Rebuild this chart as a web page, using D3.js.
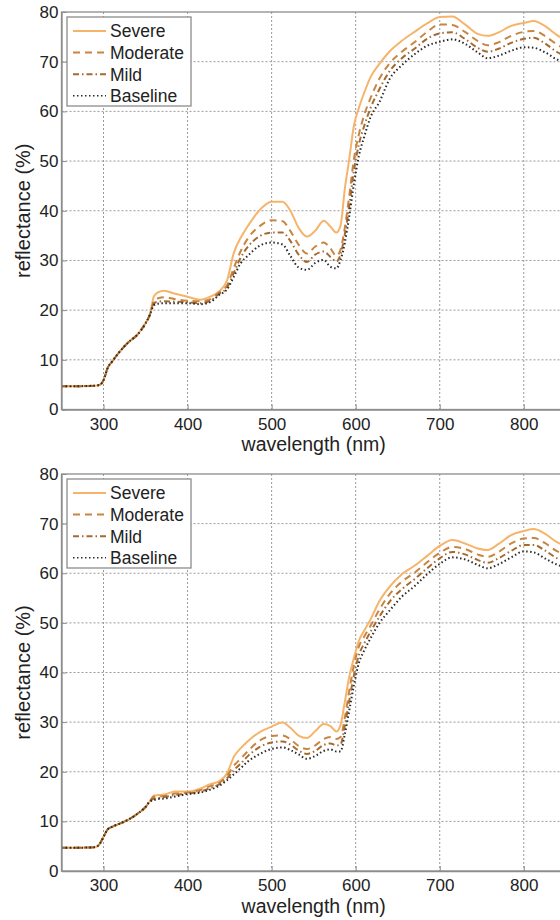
<!DOCTYPE html>
<html>
<head>
<meta charset="utf-8">
<script src="https://cdnjs.cloudflare.com/ajax/libs/d3/7.8.5/d3.min.js"></script>
<style>
  body { margin: 0; background: #fff; }
  svg { display: block; font-family: "Liberation Sans", Arial, sans-serif; }
</style>
</head>
<body>
<div class="box"></div>
<script>
// longueurs d'onde (nm), communes aux deux graphes
const wavelengths = [250, 270, 290, 296, 300, 305, 310, 320, 330, 340, 350, 355, 360, 365, 372, 385, 400, 415, 427, 437,
  447, 455, 463, 472, 485, 500, 513, 522, 532, 542, 552, 562, 570, 577, 582, 587, 592, 598, 604, 610,
  618, 628, 640, 655, 670, 685, 700, 715, 730, 745, 757, 770, 785, 800, 812, 825, 840, 850];

const seriesNames = ['Severe', 'Moderate', 'Mild', 'Baseline'];
const xTicks = [300, 400, 500, 600, 700, 800];
const yTicks = [0, 10, 20, 30, 40, 50, 60, 70, 80];

// graphe du haut
const topSevere = [4.7, 4.7, 4.8, 5.0, 5.9, 8.4, 9.6, 11.8, 13.6, 15.0, 17.4, 19.0, 22.8, 23.6, 23.9, 23.3, 22.7, 22.1, 22.7, 23.7,
  26.0, 31.5, 34.5, 37.0, 40.0, 41.8, 41.8, 40.1, 36.6, 34.8, 36.0, 38.0, 36.8, 35.6, 37.0, 44.3, 50.0, 57.2, 60.8, 63.7,
  67.0, 69.5, 72.0, 74.2, 76.0, 77.7, 79.0, 79.1, 77.5, 75.6, 75.2, 75.9, 77.2, 77.8, 78.2, 77.2, 75.3, 74.3];
const topModerate = [4.7, 4.7, 4.8, 5.0, 5.9, 8.4, 9.6, 11.8, 13.6, 15.0, 17.4, 19.0, 21.8, 22.4, 22.6, 22.2, 21.9, 21.8, 22.2, 23.5,
  25.0, 28.5, 31.8, 34.5, 36.8, 38.1, 37.9, 36.0, 33.2, 31.4, 32.8, 33.6, 32.4, 30.9, 32.2, 36.5, 42.5, 50.5, 55.5, 59.2,
  62.8, 66.5, 69.6, 72.0, 73.9, 76.0, 77.5, 77.4, 76.0, 74.2, 73.3, 73.9, 75.2, 76.0, 76.2, 75.2, 73.4, 72.5];
const topMild = [4.7, 4.7, 4.8, 5.0, 5.9, 8.4, 9.6, 11.8, 13.6, 15.0, 17.4, 19.0, 21.4, 21.7, 21.8, 21.7, 21.6, 21.4, 21.9, 23.2,
  24.6, 27.5, 30.5, 32.8, 34.8, 35.6, 35.6, 34.0, 31.2, 29.7, 31.2, 31.8, 30.7, 29.8, 31.2, 35.2, 40.5, 48.2, 53.5, 57.0,
  60.8, 64.4, 68.0, 70.7, 72.6, 74.6, 75.7, 75.9, 74.6, 72.8, 72.0, 72.6, 73.8, 74.6, 74.8, 73.7, 71.9, 71.1];
const topBaseline = [4.7, 4.7, 4.8, 5.0, 5.9, 8.4, 9.6, 11.8, 13.6, 15.0, 17.3, 19.0, 21.0, 21.3, 21.4, 21.4, 21.4, 21.2, 21.6, 23.0,
  24.2, 26.7, 29.4, 31.0, 32.9, 33.6, 33.2, 31.0, 28.6, 28.1, 29.5, 30.1, 28.7, 28.4, 30.1, 33.5, 38.5, 45.5, 51.2, 54.8,
  59.0, 61.8, 66.4, 69.3, 71.5, 73.2, 74.0, 74.5, 73.6, 71.9, 70.7, 71.2, 72.2, 72.9, 72.8, 71.9, 70.4, 69.7];

// graphe du bas
const bottomSevere = [4.7, 4.7, 4.8, 5.6, 6.9, 8.4, 8.9, 9.6, 10.4, 11.5, 12.9, 14.0, 15.2, 15.3, 15.4, 16.0, 16.0, 16.6, 17.5, 18.0,
  19.7, 23.0, 24.7, 26.2, 27.9, 29.1, 29.9, 28.9, 27.3, 26.8, 28.2, 29.6, 29.2, 28.1, 29.4, 34.0, 38.8, 43.0, 46.5, 48.4,
  50.8, 54.3, 57.2, 59.8, 61.5, 63.5, 65.5, 66.7, 66.0, 65.0, 64.7, 65.9, 67.7, 68.5, 68.9, 68.0, 66.2, 65.5];
const bottomModerate = [4.7, 4.7, 4.8, 5.6, 6.9, 8.4, 8.9, 9.6, 10.4, 11.5, 12.9, 14.0, 15.0, 15.0, 15.1, 15.6, 15.8, 16.3, 17.1, 17.7,
  19.2, 21.2, 22.6, 24.2, 26.2, 27.2, 27.3, 26.6, 25.2, 24.6, 25.3, 26.6, 27.0, 26.6, 27.0, 30.8, 36.0, 41.5, 45.3, 47.2,
  49.5, 52.6, 55.7, 58.3, 60.1, 62.2, 64.1, 65.3, 64.9, 63.8, 63.3, 64.3, 66.0, 67.0, 67.1, 66.1, 64.4, 63.8];
const bottomMild = [4.7, 4.7, 4.8, 5.6, 6.9, 8.4, 8.9, 9.6, 10.4, 11.5, 12.9, 14.0, 14.6, 14.7, 14.9, 15.3, 15.6, 16.0, 16.7, 17.4,
  18.7, 20.3, 21.6, 23.2, 24.9, 25.9, 26.1, 25.5, 24.3, 23.6, 24.2, 25.4, 25.7, 25.3, 25.5, 29.2, 34.0, 39.5, 43.6, 45.8,
  48.3, 51.2, 54.2, 56.8, 58.8, 61.0, 63.0, 64.3, 63.8, 62.7, 62.1, 63.0, 64.5, 65.7, 65.7, 64.6, 63.0, 62.4];
const bottomBaseline = [4.7, 4.7, 4.8, 5.6, 6.9, 8.4, 8.9, 9.6, 10.4, 11.5, 12.9, 14.0, 14.3, 14.5, 14.6, 15.0, 15.5, 15.8, 16.4, 17.1,
  18.3, 19.5, 20.7, 22.1, 23.5, 24.6, 24.9, 24.4, 23.5, 22.6, 23.2, 24.2, 24.5, 24.1, 24.1, 27.5, 32.0, 37.5, 42.0, 44.4,
  47.0, 49.9, 52.4, 55.3, 57.4, 59.8, 61.9, 63.2, 62.8, 61.7, 61.0, 61.8, 63.2, 64.4, 64.2, 63.0, 61.7, 61.2];

const styles = {
  Severe:   {color: '#f6b46a', dash: null, width: 2},
  Moderate: {color: '#c98540', dash: '7,5', width: 2},
  Mild:     {color: '#a56a30', dash: '6,3,1.5,3', width: 2},
  Baseline: {color: '#2a2a2a', dash: '1.5,2.5', width: 2}
};

const svg = d3.select('.box')
              .append('svg')
              .attr('width', 560)
              .attr('height', 920);

const x = d3.scaleLinear()
            .domain([250, 850])
            .range([61.5, 565.8]);

const drawPanel = (top, bottom, values) => {

    const y = d3.scaleLinear()
                .domain([0, 80])
                .range([bottom, top]);

    const g = svg.append('g');

    // grille
    g.selectAll('.gx')
     .data(xTicks)
     .enter()
     .append('line')
     .attr('x1', d => x(d)).attr('x2', d => x(d))
     .attr('y1', top).attr('y2', bottom)
     .attr('stroke', '#9a9a9a')
     .attr('stroke-dasharray', '2,2');

    g.selectAll('.gy')
     .data(yTicks.slice(1, -1))
     .enter()
     .append('line')
     .attr('x1', x(250)).attr('x2', x(850))
     .attr('y1', d => y(d)).attr('y2', d => y(d))
     .attr('stroke', '#9a9a9a')
     .attr('stroke-dasharray', '2,2');

    // courbes
    seriesNames.forEach((name, i) => {
        const line = d3.line()
                       .x((d, j) => x(wavelengths[j]))
                       .y(d => y(d))
                       .curve(d3.curveMonotoneX);
        g.append('path')
         .attr('d', line(values[i]))
         .attr('fill', 'none')
         .attr('stroke', styles[name].color)
         .attr('stroke-width', styles[name].width)
         .attr('stroke-dasharray', styles[name].dash);
    });

    // cadre
    g.append('rect')
     .attr('x', x(250)).attr('y', top)
     .attr('width', x(850) - x(250)).attr('height', bottom - top)
     .attr('fill', 'none')
     .attr('stroke', '#8c8c8c')
     .attr('stroke-width', 1.3);

    // axes
    const xAxis = d3.axisBottom(x).tickValues(xTicks).tickSizeInner(-5).tickSizeOuter(0).tickPadding(8);
    const yAxis = d3.axisLeft(y).tickValues(yTicks).tickSizeInner(-5).tickSizeOuter(0).tickPadding(3);

    const gx = g.append('g')
                .attr('transform', `translate(0, ${bottom})`)
                .call(xAxis);
    const gy = g.append('g')
                .attr('transform', `translate(${x(250)}, 0)`)
                .call(yAxis);

    [gx, gy].forEach(a => {
        a.select('.domain').attr('stroke', '#8c8c8c').attr('stroke-width', 1.3);
        a.selectAll('.tick line').attr('stroke', '#8c8c8c');
        a.selectAll('text').attr('font-size', 17).attr('fill', '#222')
         .attr('font-family', '"Liberation Sans", Arial, sans-serif');
    });

    // titres des axes
    g.append('text')
     .attr('x', (x(250) + x(850)) / 2)
     .attr('y', bottom + 41.5)
     .attr('text-anchor', 'middle')
     .attr('font-size', 19.5)
     .attr('fill', '#222')
     .text('wavelength (nm)');

    g.append('text')
     .attr('transform', `translate(30, ${(top + bottom) / 2}) rotate(-90)`)
     .attr('text-anchor', 'middle')
     .attr('font-size', 20)
     .attr('fill', '#222')
     .text('reflectance (%)');

    // légende
    const leg = g.append('g')
                 .attr('transform', `translate(${x(250) + 5.5}, ${top + 5})`);

    leg.append('rect')
       .attr('width', 124).attr('height', 89)
       .attr('fill', '#fff')
       .attr('stroke', '#8c8c8c')
       .attr('stroke-width', 1.3);

    seriesNames.forEach((name, i) => {
        const ly = 14 + i * 21.6;
        leg.append('line')
           .attr('x1', 6).attr('x2', 39)
           .attr('y1', ly).attr('y2', ly)
           .attr('stroke', styles[name].color)
           .attr('stroke-width', name === 'Baseline' ? 1.5 : 2)
           .attr('stroke-dasharray', styles[name].dash);
        leg.append('text')
           .attr('x', 43).attr('y', ly)
           .attr('dy', '0.36em')
           .attr('font-size', 17.5)
           .attr('fill', '#222')
           .text(name);
    });
}

drawPanel(12, 409.5, [topSevere, topModerate, topMild, topBaseline]);
drawPanel(474, 871, [bottomSevere, bottomModerate, bottomMild, bottomBaseline]);
</script>
</body>
</html>
